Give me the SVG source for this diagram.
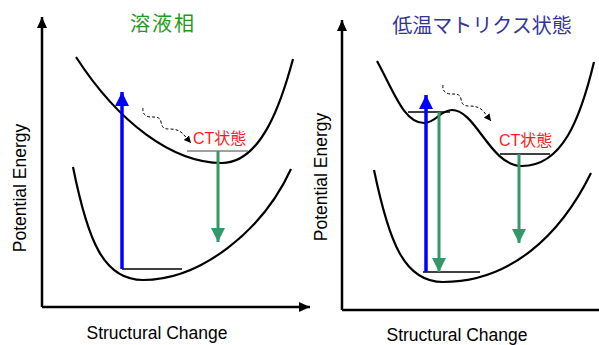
<svg xmlns="http://www.w3.org/2000/svg" width="599" height="345" viewBox="0 0 599 345">
<style>
.axis{stroke:#000;stroke-width:2.5;fill:none}
.curve{stroke:#000;stroke-width:2.2;fill:none}
.lvl{stroke:#000;stroke-width:1.3}
.lvlg{stroke:#808080;stroke-width:1.5}
.blue{stroke:#0000ff;stroke-width:3.5}
.green{stroke:#33996a;stroke-width:3}
.wave{stroke:#000;stroke-width:1;fill:none;stroke-dasharray:3,2}
.lab{font-family:"Liberation Sans",Arial,sans-serif;font-size:17.5px;fill:#000}
.ct{font-family:"Liberation Sans","Noto Sans CJK JP",sans-serif;font-size:16px;fill:#ff1a1a}
.title{font-family:"Noto Sans CJK JP",sans-serif;font-size:20px}
</style>
<defs>
<marker id="ax" markerUnits="userSpaceOnUse" markerWidth="12" markerHeight="12" refX="11" refY="6" orient="auto"><path d="M0,1 L11,6 L0,11 Z" fill="#000"/></marker>
<marker id="wv" markerUnits="userSpaceOnUse" markerWidth="8" markerHeight="8" refX="7" refY="4" orient="auto"><path d="M0,0.5 L7,4 L0,7.5 Z" fill="#000"/></marker>
<marker id="bl" markerUnits="userSpaceOnUse" markerWidth="16" markerHeight="16" refX="14" refY="8" orient="auto"><path d="M0,1 L14,8 L0,15 Z" fill="#0000ff"/></marker>
<marker id="gr" markerUnits="userSpaceOnUse" markerWidth="16" markerHeight="16" refX="14" refY="8" orient="auto"><path d="M0,1 L14,8 L0,15 Z" fill="#33996a"/></marker>
</defs>

<g id="left-panel">
  <g id="left-axes">
    <path class="axis" d="M42,307 L42,17" marker-end="url(#ax)"/>
    <path class="axis" d="M42,307 L310,307" marker-end="url(#ax)"/>
  </g>
  <g id="left-title"><text class="title" x="163" y="31" text-anchor="middle" fill="#1f9a1f" letter-spacing="2">溶液相</text></g>
  <g id="left-upper-curve"><path class="curve" d="M76,57 C118,122 172,163 222,163 C262,163 282,100 293,59"/></g>
  <g id="left-lower-curve"><path class="curve" d="M73,167 C88,242 104,280 143,280 C200,280 262,232 291,169"/></g>
  <g id="left-ct-label"><text class="ct" x="193" y="144">CT状態</text></g>
</g>

<g id="right-panel">
  <g id="right-axes">
    <path class="axis" d="M342,310 L342,20" marker-end="url(#ax)"/>
    <path class="axis" d="M342,310 L599,310"/>
  </g>
  <g id="right-title"><text class="title" x="482" y="33" text-anchor="middle" fill="#333399">低温マトリクス状態</text></g>
  <g id="right-upper-curve"><path class="curve" d="M377,61 C394,92 404,123 424,123 C436,123 440,110 452,110 C476,110 490,166 522,166 C562,166 580,120 594,62"/></g>
  <g id="right-lower-curve"><path class="curve" d="M374,170 C389,242 404,282 443,282 C510,282 560,236 591,173"/></g>
  <g id="right-ct-label"><text class="ct" x="499" y="146">CT状態</text></g>
</g>

<g id="axis-labels">
  <text class="lab" transform="translate(26,188) rotate(-90)" text-anchor="middle">Potential Energy</text>
  <text class="lab" transform="translate(327,177) rotate(-90)" text-anchor="middle">Potential Energy</text>
  <text class="lab" x="157" y="339" text-anchor="middle">Structural Change</text>
  <text class="lab" x="457" y="341" text-anchor="middle">Structural Change</text>
</g>

<g id="connectors">
  <line class="lvl" x1="122" y1="269" x2="182" y2="269"/>
  <line class="lvlg" x1="187" y1="151" x2="248" y2="151"/>
  <line class="blue" x1="122" y1="269" x2="122" y2="92" marker-end="url(#bl)"/>
  <line class="green" x1="218" y1="151" x2="218" y2="242" marker-end="url(#gr)"/>
  <path class="wave" d="M143,108 C142,114 146,117 151,117 C157,117 160,117 161,122 C162,127 163,129 169,129 C175,129 180,130 184,135 L191,143" marker-end="url(#wv)"/>

  <line class="lvl" x1="408" y1="112" x2="450" y2="112"/>
  <line class="lvl" x1="423" y1="272" x2="480" y2="272"/>
  <line class="lvl" x1="500" y1="154" x2="550" y2="154"/>
  <line class="blue" x1="426" y1="272" x2="426" y2="95" marker-end="url(#bl)"/>
  <line class="green" x1="439" y1="112" x2="439" y2="272" marker-end="url(#gr)"/>
  <line class="green" x1="519" y1="154" x2="519" y2="243" marker-end="url(#gr)"/>
  <path class="wave" d="M443,85 C442,91 446,94 451,94 C457,94 460,94 461,99 C462,104 463,106 469,106 C475,106 480,107 484,112 L491,121" marker-end="url(#wv)"/>
</g>
</svg>
